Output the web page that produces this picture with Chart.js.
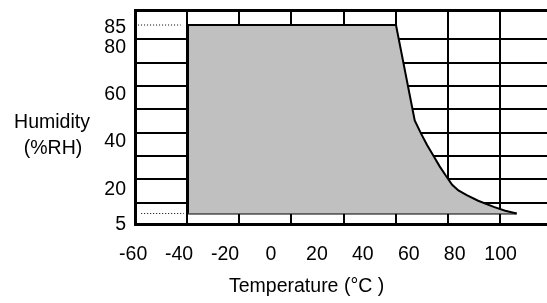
<!DOCTYPE html>
<html>
<head>
<meta charset="utf-8">
<script src="https://cdn.jsdelivr.net/npm/chart.js@4.4.0/dist/chart.umd.min.js"></script>
<style>
  body { margin: 0; background: #fff; }
</style>
</head>
<body>
<canvas id="chart" width="547" height="303"></canvas>
<script>
// outline of the operating area (temp °C / %RH)
const temps    = [-40, -40, 60, 69, 72, 75, 78, 81, 84, 87, 90, 94, 99.5, 107, 112.5, 118];
const humidity = [5, 85, 85, 44.5, 39, 34, 29.5, 25, 21, 17.2, 14.8, 12.8, 10.4, 7.8, 6.2, 5];

// short dotted guides left of the area
const guide85 = [-64, -43.5];
const guide5 = [-62.5, -42];

const xTicks = [-60, -40, -20, 0, 20, 40, 60, 80, 100];
const yTicks = [5, 20, 40, 60, 80, 85];
const xGrid = [-40, -20, 0, 20, 40, 60, 80];
const yGrid = [10, 20, 30, 40, 50, 60, 70, 80];

const yTitle = ['Humidity', '(%RH)'];
const xTitle = 'Temperature (°C )';

const FONT = '"Liberation Sans", Arial, sans-serif';
const FONT_SIZE = 19.5;
Chart.defaults.font.family = FONT;
Chart.defaults.font.size = FONT_SIZE;
Chart.defaults.color = '#000';

const pts = (xs, ys) => xs.map((x, i) => ({ x: x, y: ys[i] }));
const last = temps.length - 1;

// axis titles are plain horizontal text in the original
const titles = {
  id: 'titles',
  afterDraw(chart) {
    const ctx = chart.ctx;
    ctx.save();
    ctx.fillStyle = '#000';
    ctx.font = FONT_SIZE + 'px ' + FONT;
    ctx.textAlign = 'center';
    ctx.fillText(yTitle[0], 52, 128);
    ctx.fillText(yTitle[1], 53, 154);
    ctx.textAlign = 'left';
    ctx.fillText(xTitle, 229, 292);
    ctx.restore();
  }
};

// no automatic label padding, the plot box is placed by hand
const noPad = a => { a.paddingTop = a.paddingBottom = a.paddingLeft = a.paddingRight = 0; };

const Y_GRID_MAX = 92.55;

new Chart(document.getElementById('chart'), {
  type: 'line',
  data: {
    datasets: [
      {
        data: pts(temps, humidity),
        borderColor: '#000',
        borderWidth: 2,
        backgroundColor: '#c0c0c0',
        fill: { value: 5 },
        pointRadius: 0,
        tension: 0
      },
      {
        // bottom edge of the area
        data: [{ x: temps[0], y: humidity[0] }, { x: temps[last], y: humidity[last] }],
        borderColor: '#000',
        borderWidth: 2,
        pointRadius: 0,
        fill: false
      },
      {
        data: pts(guide85, [85, 85]),
        borderColor: '#000',
        borderWidth: 1,
        borderDash: [1, 2],
        pointRadius: 0,
        fill: false
      },
      {
        data: pts(guide5, [5, 5]),
        borderColor: '#000',
        borderWidth: 1,
        borderDash: [1, 2],
        pointRadius: 0,
        fill: false
      }
    ]
  },
  options: {
    responsive: false,
    animation: false,
    layout: { autoPadding: false, padding: { top: 10, left: 0, right: 0, bottom: 0 } },
    plugins: { legend: { display: false }, tooltip: { enabled: false } },
    scales: {
      // data axes
      x: { type: 'linear', display: false, min: -65.48, max: 132.6 },
      y: {
        type: 'linear', position: 'left', weight: 1, min: 0.54, max: 91.37,
        grid: { display: false, drawTicks: false },
        border: { display: false },
        ticks: { padding: 9, labelOffset: 11, autoSkip: false, callback: (v, i) => yTicks[i] },
        // 85 is squeezed in just above 80 in the original
        afterBuildTicks: a => { a.ticks = yTicks.map(v => ({ value: v === 85 ? v + 3.4 : v })); },
        afterFit: a => { a.width = 135; noPad(a); }
      },
      // grid only
      xg: {
        type: 'linear', position: 'bottom', weight: 0, min: -60, max: 98.03,
        grid: { color: '#000', lineWidth: 2, drawTicks: false },
        border: { color: '#000', width: 3 },
        ticks: { display: false },
        afterBuildTicks: a => { a.ticks = xGrid.map(v => ({ value: v })); },
        afterFit: a => { a.height = 0; noPad(a); }
      },
      yg: {
        type: 'linear', position: 'left', weight: 0, min: 0.875, max: Y_GRID_MAX,
        grid: {
          color: '#000',
          lineWidth: c => (c.tick && c.tick.value === Y_GRID_MAX ? 3 : 2),
          drawTicks: false
        },
        border: { color: '#000', width: 3 },
        ticks: { display: false },
        afterBuildTicks: a => { a.ticks = yGrid.concat([Y_GRID_MAX]).map(v => ({ value: v })); },
        afterFit: a => { a.width = 0; noPad(a); }
      },
      // tick labels only
      xl: {
        type: 'linear', position: 'bottom', weight: 1, min: -59.2, max: 120.2,
        grid: { display: false, drawTicks: false },
        border: { display: false },
        ticks: { padding: 19, autoSkip: false, maxRotation: 0 },
        afterBuildTicks: a => { a.ticks = xTicks.map(v => ({ value: v })); },
        afterFit: a => { a.height = 79; noPad(a); }
      }
    }
  },
  plugins: [titles]
});
</script>
</body>
</html>
